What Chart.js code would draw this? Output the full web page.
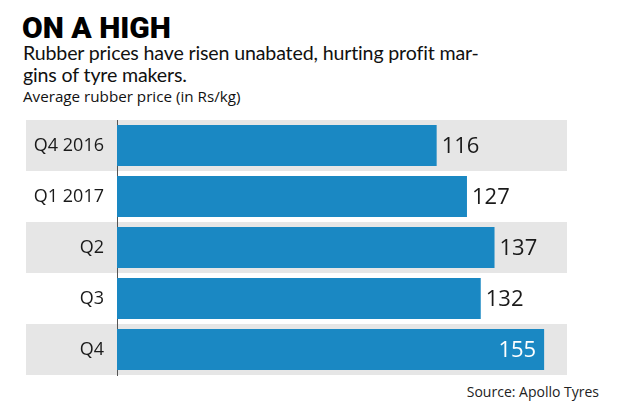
<!DOCTYPE html>
<html>
<head>
<meta charset="utf-8">
<script src="https://cdn.jsdelivr.net/npm/chart.js@4.4.1/dist/chart.umd.min.js"></script>
<style>
  html, body { margin: 0; padding: 0; background: #fff; }
  body { width: 621px; height: 414px; position: relative; overflow: hidden; font-family: "Open Sans", sans-serif; color: #111; }
  .t { position: absolute; white-space: nowrap; line-height: 1; }
  #title { left: 22px; top: 13px; font-family: Roboto, sans-serif; font-weight: 900; font-size: 30px; color: #000; }
  #sub { left: 23px; top: 42px; font-family: Lato, sans-serif; font-size: 19.6px; letter-spacing: -0.15px; line-height: 22px; color: #111; }
  #axis { left: 23px; top: 89px; font-size: 15.2px; color: #111; }
  #src { right: 22px; top: 385px; font-size: 14px; color: #222; }
  #wrap { position: absolute; left: 0; top: 0; width: 621px; height: 414px; }
</style>
</head>
<body>
<div class="t" id="title">ON A HIGH</div>
<div class="t" id="sub">Rubber prices have risen unabated, hurting profit mar-<br>gins of tyre makers.</div>
<div class="t" id="axis">Average rubber price (in Rs/kg)</div>
<div class="t" id="src">Source: Apollo Tyres</div>
<div id="wrap"><canvas id="c" width="621" height="414"></canvas></div>
<script>
const categories = ["Q4 2016", "Q1 2017", "Q2", "Q3", "Q4"];
const prices = [116, 127, 137, 132, 155];

const bandPlugin = {
  id: 'bands',
  beforeDraw(chart) {
    const { ctx, chartArea, scales } = chart;
    const y = scales.y;
    const step = y.getPixelForValue(1) - y.getPixelForValue(0);
    ctx.save();
    ctx.fillStyle = '#e6e6e6';
    for (let i = 0; i < categories.length; i += 2) {
      const c = y.getPixelForValue(i);
      ctx.fillRect(26, c - step / 2, chartArea.right - 26, step);
    }
    ctx.restore();
  }
};

const valuePlugin = {
  id: 'values',
  afterDatasetsDraw(chart) {
    const { ctx, chartArea } = chart;
    const meta = chart.getDatasetMeta(0);
    ctx.save();
    ctx.font = '22px "Open Sans", sans-serif';
    ctx.textBaseline = 'middle';
    meta.data.forEach((bar, i) => {
      const txt = String(prices[i]);
      const w = ctx.measureText(txt).width;
      if (bar.x + 5 + w > chartArea.right - 4) {
        ctx.fillStyle = '#ffffff';
        ctx.textAlign = 'right';
        ctx.fillText(txt, bar.x - 8, bar.y + 1);
      } else {
        ctx.fillStyle = '#1a1a1a';
        ctx.textAlign = 'left';
        ctx.fillText(txt, bar.x + 5, bar.y + 1);
      }
    });
    ctx.restore();
  }
};

new Chart(document.getElementById('c'), {
  type: 'bar',
  data: {
    labels: categories,
    datasets: [{
      data: prices,
      backgroundColor: '#1a88c3',
      borderWidth: 0,
      barPercentage: 0.8,
      categoryPercentage: 1.0
    }]
  },
  options: {
    indexAxis: 'y',
    responsive: false,
    animation: false,
    layout: { padding: { top: 120, bottom: 39, right: 54, left: 0 } },
    plugins: { legend: { display: false }, tooltip: { enabled: false }, title: { display: false } },
    scales: {
      x: { display: false, min: 0, max: 163.3 },
      y: {
        afterFit(s) { s.width = 117; },
        grid: { display: false, drawTicks: false },
        border: { display: true, color: '#555', width: 1 },
        ticks: { color: '#1a1a1a', font: { family: '"Open Sans", sans-serif', size: 18 }, padding: 13 }
      }
    }
  },
  plugins: [bandPlugin, valuePlugin]
});
</script>
</body>
</html>
